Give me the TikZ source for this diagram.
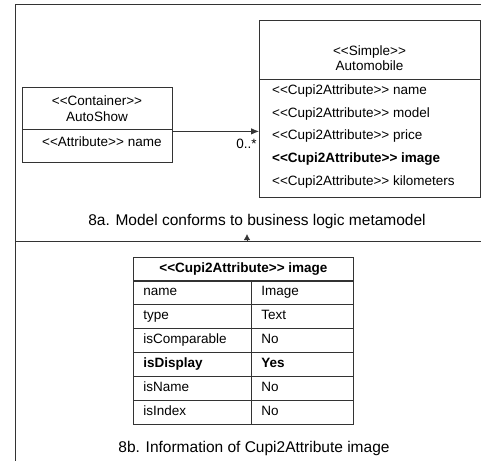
\documentclass[tikz,border=0pt]{standalone}
\usepackage{fontspec}
\newfontfamily\umlfont{Liberation Sans}
\usetikzlibrary{arrows,arrows.meta,positioning}

\tikzset{
  line/.style={draw=black!80, line width=0.8pt},
  box/.style={line, inner sep=0pt},
  txt/.style={inner sep=0pt, text height=10pt, text depth=3pt, font=\umlfont\fontsize{13.5}{15}\selectfont},
  caption/.style={inner sep=0pt, font=\umlfont\fontsize{15.5}{17}\selectfont},
  cell/.style={box, anchor=north west, minimum height=24pt, inner xsep=10pt, text height=10pt, text depth=3pt, font=\umlfont\fontsize{13.5}{15}\selectfont}
}

\begin{document}
\begin{tikzpicture}[x=1pt,y=-1pt]
\useasboundingbox (0,0) rectangle (481,461);

% frame
\draw[line] (481,4) -- (15,4) -- (15,461);
\draw[line] (15,241) -- (481,241);

% 8a
\node[box, anchor=north west, minimum width=150pt, minimum height=75pt] (show) at (22,87) {};
\draw[line] ([yshift=-42pt]show.north west) -- ([yshift=-42pt]show.north east);
\node[txt] (showtype) at (97,102) {<<Container>>};
\node[txt] (showname) at (97,118) {AutoShow};
\node[txt, anchor=west] (showattr) at (42,143) {<<Attribute>> name};

\node[box, anchor=north west, minimum width=221pt, minimum height=177pt] (auto) at (259,20) {};
\draw[line] ([yshift=-59pt]auto.north west) -- ([yshift=-59pt]auto.north east);
\node[txt] (autotype) at (369.5,52) {<<Simple>>};
\node[txt] (autoname) at (369.5,67) {Automobile};
\foreach \i/\attr in {0/name, 1/model, 2/price, 3/image, 4/kilometers}
  \node[txt, anchor=west] (attr\i) at (272,91+22.7*\i) {\ifnum\i=3\bfseries\fi <<Cupi2Attribute>> \attr};

\draw[line, ->, >={Latex[length=8pt,width=6.5pt]}] ([yshift=-6.5pt]show.east) -- ([yshift=-6.5pt]show.east -| auto.west)
  node[txt, anchor=north east, xshift=-2pt, yshift=-7pt] {0..*};

\node[caption] (capa) at (257,221) {8a. Model conforms to business logic metamodel};

\coordinate (tipbase) at (247,241);
\coordinate (tiptop) at (247,234);
\draw[line, -{Latex[length=6pt,width=6.5pt]}] (tipbase) -- (tiptop);

% 8b
\node[cell, minimum width=220pt, inner xsep=0pt] (head) at (133,257) {\bfseries <<Cupi2Attribute>> image};
\foreach \k/\key/\val in {1/name/Image, 2/type/Text, 3/isComparable/No, 4/\bfseries isDisplay/\bfseries Yes, 5/isName/No, 6/isIndex/No} {
  \node[cell, text width=98pt] (key\k) at (133,280+24*\k-24) {\key};
  \node[cell, text width=82pt] (val\k) at (251,280+24*\k-24) {\val};
}

\node[caption] (capb) at (254,448) {8b. Information of Cupi2Attribute image};
\end{tikzpicture}
\end{document}
